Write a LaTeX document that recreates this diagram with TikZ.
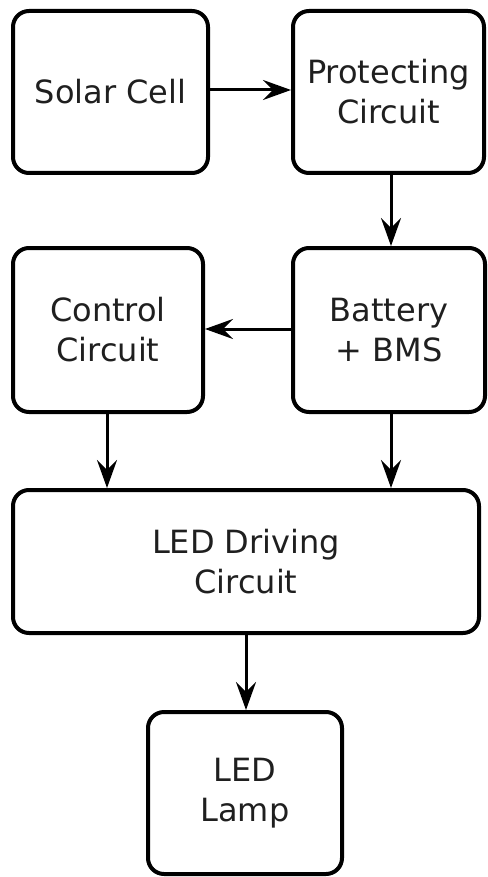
\documentclass[tikz,border=0pt]{standalone}
\usepackage{fontspec}
\setmainfont{DejaVu Sans}
\usetikzlibrary{arrows.meta}
\begin{document}
\begin{tikzpicture}[x=1pt,y=-1pt,
  blk/.style={draw=black, line width=4pt, rounded corners=16pt, inner sep=0pt,
    align=center, text=black!88, font=\fontsize{32}{40}\selectfont},
  conn/.style={line width=3pt, -{Stealth[length=28pt,width=20pt,inset=10pt]}}]
\useasboundingbox (0,0) rectangle (487,877);
\node[blk, minimum width=195pt, minimum height=162pt] (solar) at (110.5,92) {Solar Cell};
\node[blk, minimum width=191pt, minimum height=162pt] (prot) at (388.5,92) {Protecting\\Circuit};
\node[blk, minimum width=190pt, minimum height=164pt] (ctrl) at (108,330) {Control\\Circuit};
\node[blk, minimum width=192pt, minimum height=164pt] (bat) at (389,330) {Battery\\+ BMS};
\node[blk, minimum width=466pt, minimum height=143pt] (drv) at (246,561.5) {LED Driving\\Circuit};
\node[blk, minimum width=194pt, minimum height=162pt] (lamp) at (245,793) {LED\\Lamp};
\draw[conn] (solar.east |- 0,90) -- (prot.west |- 0,90);
\draw[conn] (prot.south -| 391,0) -- (bat.north -| 391,0);
\draw[conn] (bat.west |- 0,329) -- (ctrl.east |- 0,329);
\draw[conn] (ctrl.south -| 107,0) -- (drv.north -| 107,0);
\draw[conn] (bat.south -| 391,0) -- (drv.north -| 391,0);
\draw[conn] (drv.south -| 246,0) -- (lamp.north -| 246,0);
\end{tikzpicture}
\end{document}
